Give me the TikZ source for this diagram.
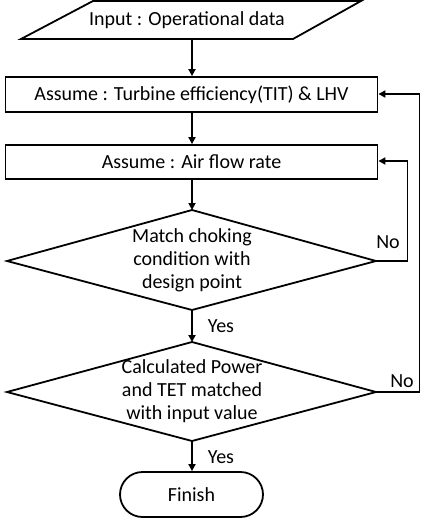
\documentclass[tikz,border=0pt]{standalone}
\usepackage{fontspec}
\setmainfont{Carlito}
\usetikzlibrary{arrows.meta,shapes.geometric,shapes.misc}
\begin{document}
\begin{tikzpicture}[x=1pt,y=-1pt,
  line width=1.8pt,
  arr/.style={-{Triangle[length=7pt,width=7pt]}},
  lbl/.style={font=\fontsize{20}{23}\selectfont, inner sep=0pt},
  every node/.style={font=\fontsize{20}{23}\selectfont}]
\useasboundingbox (0,0) rectangle (428,519);
% input parallelogram
\draw (93,1) -- (361,1) -- (293,39) -- (21,39) -- cycle;
\node (in) at (187,20) {Input : Operational data};
\coordinate (inb) at (192,39);
% boxes
\node[draw, minimum width=372pt, minimum height=35pt, inner sep=0pt] (b1) at (191.5,94.5) {Assume : Turbine efficiency(TIT) \& LHV};
\node[draw, minimum width=372pt, minimum height=34pt, inner sep=0pt] (b2) at (191.5,162) {Assume : Air flow rate};
% diamonds
\draw (192,210) -- (376,261) -- (192,310) -- (7,261) -- cycle;
\node[align=center] (d1) at (192,260) {Match choking\\condition with\\design point};
\coordinate (d1t) at (192,210);
\coordinate (d1b) at (192,310);
\coordinate (d1r) at (376,261);
\draw (192,342) -- (376,392) -- (192,441) -- (7,392) -- cycle;
\node[align=center] (d2) at (192,391) {Calculated Power\\and TET matched\\with input value};
\coordinate (d2t) at (192,342);
\coordinate (d2b) at (192,441);
\coordinate (d2r) at (376,392);
% finish
\node[draw, rounded rectangle, minimum width=143pt, minimum height=45pt, inner sep=0pt] (fin) at (191.5,494.5) {Finish};
% connectors
\draw[arr] (inb) -- (b1.north -| inb);
\draw[arr] (b1.south -| inb) -- (b2.north -| inb);
\draw[arr] (b2.south -| inb) -- (d1t);
\draw[arr] (d1b) -- (d2t);
\draw[arr] (d2b) -- (fin.north -| d2b);
\draw[arr] (d1r) -- (407.5,261) -- (407.5,161) -- (b2.east |- 0,161);
\draw[arr] (d2r) -- (419.5,392) -- (419.5,94) -- (b1.east |- 0,94);
% labels
\node[lbl] (no1) at (388,242) {No};
\node[lbl] (no2) at (402,381) {No};
\node[lbl] (y1) at (221,326) {Yes};
\node[lbl] (y2) at (221,457) {Yes};
\end{tikzpicture}
\end{document}
